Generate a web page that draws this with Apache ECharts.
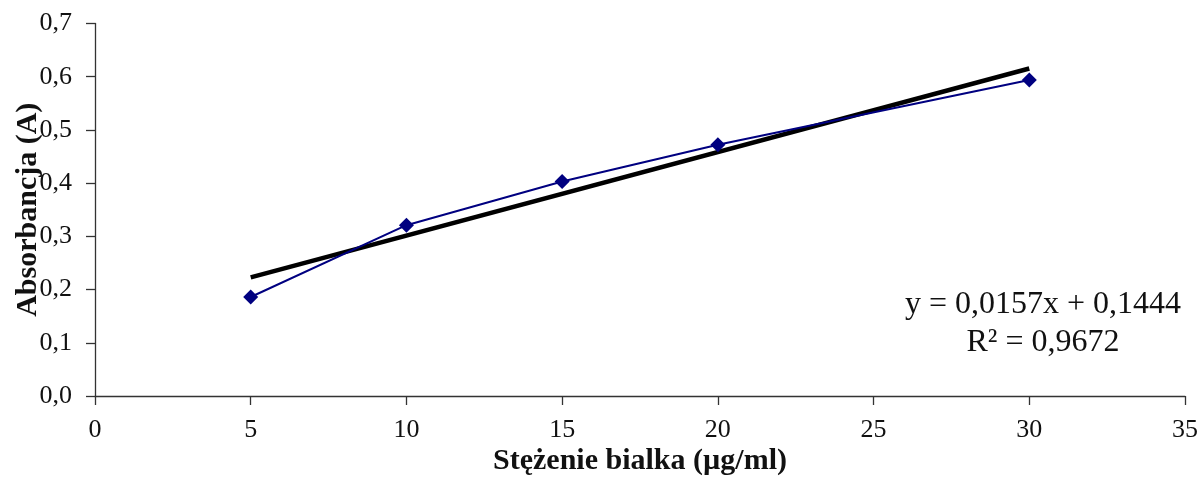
<!DOCTYPE html>
<html>
<head>
<meta charset="utf-8">
<script src="https://cdn.jsdelivr.net/npm/echarts@6/dist/echarts.min.js"></script>
<style>html,body{margin:0;padding:0;background:#fff}#c{width:1199px;height:477px}</style>
</head>
<body>
<div id="c"></div>
<script>
const concentrations = [5, 10, 15, 20, 30];
const absorbance = [0.186, 0.321, 0.403, 0.472, 0.594];
const trendSlope = 0.0157;
const trendIntercept = 0.1444;
const trendRange = [5, 30];
const equationText = 'y = 0,0157x + 0,1444';
const r2Text = 'R² = 0,9672';
const xTickLabels = ['0', '5', '10', '15', '20', '25', '30', '35'];
const yTickLabels = ['0,0', '0,1', '0,2', '0,3', '0,4', '0,5', '0,6', '0,7'];
const xTitle = 'Stężenie bialka (µg/ml)';
const yTitle = 'Absorbancja (A)';

const font = '"Liberation Serif", "Times New Roman", serif';
const chart = echarts.init(document.getElementById('c'));
const axisLine = {show: true, onZero: false, lineStyle: {color: '#333', width: 1.3}};
chart.setOption({
  animation: false,
  grid: {left: 95, right: 14, top: 23.5, bottom: 81, containLabel: false, outerBoundsMode: 'none'},
  xAxis: {
    type: 'value', min: 0, max: 35, interval: 5,
    axisLine: axisLine,
    axisTick: {show: true, length: 9, lineStyle: {color: '#333', width: 1.3}},
    splitLine: {show: false},
    axisLabel: {
      margin: 21, fontFamily: font, fontSize: 26, color: '#111',
      formatter: v => xTickLabels[Math.round(v / 5)]
    },
    name: xTitle, nameLocation: 'middle', nameGap: 50, nameMoveOverlap: false,
    nameTextStyle: {fontFamily: font, fontSize: 30, fontWeight: 'bold', color: '#111'}
  },
  yAxis: {
    type: 'value', min: 0, max: 0.7, interval: 0.1,
    axisLine: axisLine,
    axisTick: {show: true, length: 9, lineStyle: {color: '#333', width: 1.3}},
    splitLine: {show: false},
    axisLabel: {
      margin: 23, fontFamily: font, fontSize: 26, color: '#111',
      formatter: v => yTickLabels[Math.round(v * 10)]
    },
    name: yTitle, nameLocation: 'middle', nameGap: 52, nameRotate: 90, nameMoveOverlap: false,
    nameTextStyle: {fontFamily: font, fontSize: 30, fontWeight: 'bold', color: '#111'}
  },
  series: [
    {
      type: 'line',
      data: trendRange.map(x => [x, trendSlope * x + trendIntercept]),
      symbol: 'none',
      lineStyle: {color: '#000', width: 4.5},
      z: 2
    },
    {
      type: 'line',
      data: concentrations.map((x, i) => [x, absorbance[i]]),
      symbol: 'diamond', symbolSize: 15,
      itemStyle: {color: '#000080'},
      lineStyle: {color: '#000080', width: 2},
      z: 3
    }
  ],
  graphic: [
    {type: 'text', x: 1043, y: 305, style: {text: equationText, fontFamily: font, fontSize: 32, fill: '#111', align: 'center', verticalAlign: 'middle'}},
    {type: 'text', x: 1043, y: 343, style: {text: r2Text, fontFamily: font, fontSize: 32, fill: '#111', align: 'center', verticalAlign: 'middle'}}
  ]
});
</script>
</body>
</html>
